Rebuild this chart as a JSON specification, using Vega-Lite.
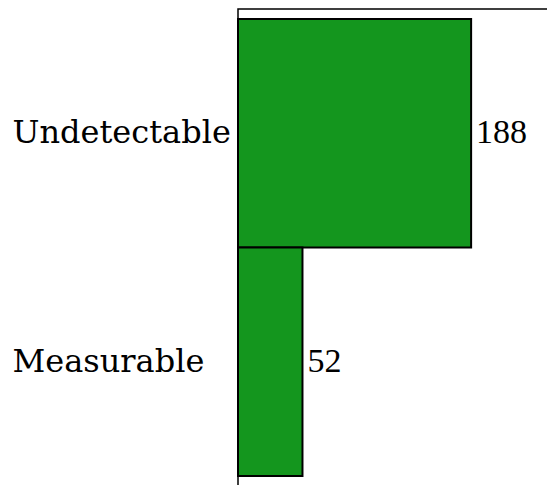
{
  "$schema": "https://vega.github.io/schema/vega-lite/v6.json",
  "width": 310,
  "height": 477,
  "autosize": {"type": "none"},
  "padding": {"left": 238, "top": 9, "right": 0, "bottom": 0},
  "background": "white",
  "config": {"view": {"stroke": "black", "strokeWidth": 1.5}},
  "data": {"values": [
    {"category": "Undetectable", "count": 188},
    {"category": "Measurable", "count": 52}
  ]},
  "encoding": {
    "y": {"field": "category", "type": "nominal", "sort": ["Undetectable", "Measurable"],
          "scale": {"paddingInner": 0, "paddingOuter": 0.044},
          "axis": {"title": null, "domain": false, "ticks": false, "labelFont": "DejaVu Serif", "labelFontSize": 32, "labelColor": "black", "labelAlign": "left", "labelPadding": 226, "labelLimit": 400}},
    "x": {"field": "count", "type": "quantitative", "scale": {"domain": [0, 250], "nice": false}, "axis": null}
  },
  "layer": [
    {"mark": {"type": "bar", "color": "#14961e", "stroke": "black", "strokeWidth": 2}},
    {"mark": {"type": "text", "align": "left", "dx": 5, "font": "Liberation Serif", "fontSize": 34, "color": "black"},
     "encoding": {"text": {"field": "count", "type": "quantitative"}}}
  ]
}
